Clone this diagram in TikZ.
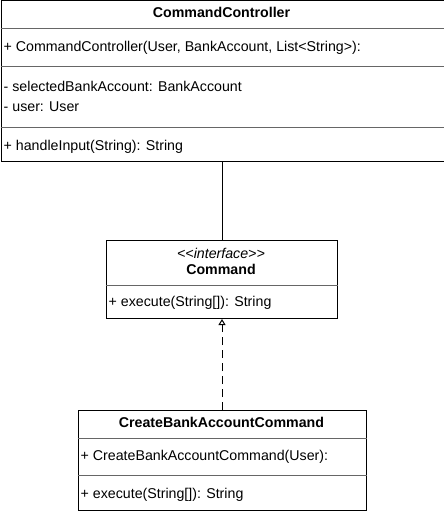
\documentclass[tikz,border=0pt]{standalone}
\usepackage{fontspec}
\setmainfont{Liberation Sans}
\usetikzlibrary{arrows.meta}
\begin{document}
\begin{tikzpicture}[x=1pt,y=-1pt,
  classbox/.style={draw=black, line width=1pt, inner sep=0pt, anchor=north west, fill=white},
  sepline/.style={draw=black!60, line width=0.8pt},
  member/.style={inner sep=0pt, anchor=west, font=\fontsize{14.2pt}{16pt}\selectfont},
  title/.style={inner sep=0pt, font=\fontsize{14.2pt}{16pt}\selectfont\bfseries},
  stereo/.style={inner sep=0pt, font=\fontsize{14.2pt}{16pt}\selectfont\itshape},
  assoc/.style={draw=black, line width=1pt},
  realize/.style={draw=black, line width=1pt, dash pattern=on 8pt off 5pt, -{Triangle[open, length=6pt, width=7pt]}}
]
\useasboundingbox (0,0) rectangle (444,511);
% CommandController
\node[classbox, minimum width=443pt, minimum height=160pt] (cc) at (0.5,0.5) {};
\draw[sepline] ([yshift=-27.5pt]cc.north west) -- ([yshift=-27.5pt]cc.north east);
\draw[sepline] ([yshift=-66pt]cc.north west) -- ([yshift=-66pt]cc.north east);
\draw[sepline] ([yshift=-127pt]cc.north west) -- ([yshift=-127pt]cc.north east);
\node[title] (ccT) at (221.5,12.5) {CommandController};
\node[member] (cc1) at (3.5,48) {+ CommandController(User, BankAccount, List<String>):};
\node[member] (cc2) at (3.5,86) {- selectedBankAccount: BankAccount};
\node[member] (cc3) at (3.5,107) {- user: User};
\node[member] (cc4) at (3.5,147) {+ handleInput(String): String};
% Command
\node[classbox, minimum width=231pt, minimum height=78pt] (cmd) at (105.5,240) {};
\draw[sepline] ([yshift=-45pt]cmd.north west) -- ([yshift=-45pt]cmd.north east);
\node[stereo] (cmdS) at (221,253) {<{}<interface>{}>};
\node[title] (cmdT) at (221,269) {Command};
\node[member] (cmd1) at (108.5,303) {+ execute(String[]): String};
% CreateBankAccountCommand
\node[classbox, minimum width=288pt, minimum height=100pt] (cb) at (77.5,410) {};
\draw[sepline] ([yshift=-28pt]cb.north west) -- ([yshift=-28pt]cb.north east);
\draw[sepline] ([yshift=-65pt]cb.north west) -- ([yshift=-65pt]cb.north east);
\node[title] (cbT) at (221.5,422) {CreateBankAccountCommand};
\node[member] (cb1) at (80.5,457) {+ CreateBankAccountCommand(User):};
\node[member] (cb2) at (80.5,495) {+ execute(String[]): String};
% connectors
\draw[assoc] (cc.south) -- (cc.south |- cmd.north);
\draw[realize] (cb.north) -- (cb.north |- cmd.south);
\end{tikzpicture}
\end{document}
